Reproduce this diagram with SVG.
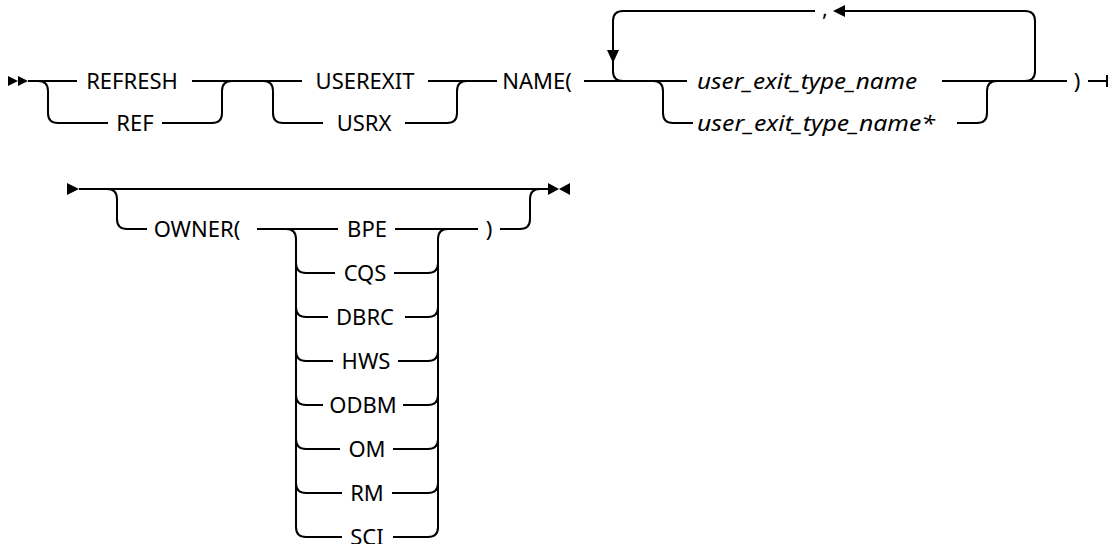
<svg xmlns="http://www.w3.org/2000/svg" width="1109" height="544" viewBox="0 0 1109 544">
<style>
.ln{fill:none;stroke:#000;stroke-width:2}
.ah{fill:#000;stroke:none}
text{font-family:"Noto Sans","Liberation Sans",sans-serif;font-size:22px;fill:#000}
.it{font-style:italic}
.c{text-anchor:middle}
</style>
<rect width="1109" height="544" fill="#fff"/>
<g id="connectors">
<path class="ln" d="M28 81H77M192 81H302M428 81H497M584 81H687M942 81H1067M1088 81H1107M1107 75V87"/>
<path class="ln" d="M38 81Q48 81 48 91V113Q48 123 58 123H108M162 123H212Q222 123 222 113V91Q222 81 232 81"/>
<path class="ln" d="M263 81Q273 81 273 91V113Q273 123 283 123H323M405 123H447Q457 123 457 113V91Q457 81 467 81"/>
<path class="ln" d="M1025 81Q1035 81 1035 71V21Q1035 11 1025 11H845M815 11H623Q613 11 613 21V71Q613 81 623 81"/>
<path class="ln" d="M653 81Q663 81 663 91V113Q663 123 673 123H693M957 123H977Q987 123 987 113V91Q987 81 997 81"/>
<path class="ln" d="M79 189H548"/>
<path class="ln" d="M107 189Q117 189 117 199V219Q117 229 127 229H147M257 229H338M395 229H478M500 229H520Q530 229 530 219V199Q530 189 540 189"/>
<path class="ln" d="M286 229Q296 229 296 239V527M438 527V239Q438 229 448 229"/>
<path class="ln" d="M296 263Q296 273 306 273H335M394 273H428Q438 273 438 263"/>
<path class="ln" d="M296 307Q296 317 306 317H328M405 317H428Q438 317 438 307"/>
<path class="ln" d="M296 351Q296 361 306 361H333M398 361H428Q438 361 438 351"/>
<path class="ln" d="M296 395Q296 405 306 405H323M403 405H428Q438 405 438 395"/>
<path class="ln" d="M296 439Q296 449 306 449H340M393 449H428Q438 449 438 439"/>
<path class="ln" d="M296 483Q296 493 306 493H342M392 493H428Q438 493 438 483"/>
<path class="ln" d="M296 527Q296 537 306 537H342M393 537H428Q438 537 438 527"/>
<polygon class="ah" points="8,76 18,81 8,86"/>
<polygon class="ah" points="18,76 28,81 18,86"/>
<polygon class="ah" points="833,11 845,5 845,17"/>
<polygon class="ah" points="613,63 607,50 619,50"/>
<polygon class="ah" points="67,183 79,189 67,195"/>
<polygon class="ah" points="548,183 559,189 548,195"/>
<polygon class="ah" points="570,183 559,189 570,195"/>
</g>
<g id="n-refresh"><text class="c" x="132" y="89">REFRESH</text></g>
<g id="n-ref"><text class="c" x="135" y="131">REF</text></g>
<g id="n-userexit"><text class="c" x="365" y="89">USEREXIT</text></g>
<g id="n-usrx"><text class="c" x="364" y="131">USRX</text></g>
<g id="n-name"><text class="c" x="537" y="89">NAME(</text></g>
<g id="n-comma"><text class="c" x="825" y="16">,</text></g>
<g id="n-uetn"><text class="it" x="697" y="89" textLength="220" lengthAdjust="spacingAndGlyphs">user_exit_type_name</text></g>
<g id="n-uetn-star"><text class="it" x="697" y="131" textLength="238" lengthAdjust="spacingAndGlyphs">user_exit_type_name*</text></g>
<g id="n-close1"><text class="c" x="1077" y="89">)</text></g>
<g id="n-owner"><text class="c" x="197" y="237">OWNER(</text></g>
<g id="n-close2"><text class="c" x="489" y="237">)</text></g>
<g id="n-bpe"><text class="c" x="367" y="237">BPE</text></g>
<g id="n-cqs"><text class="c" x="365" y="281">CQS</text></g>
<g id="n-dbrc"><text class="c" x="365" y="325">DBRC</text></g>
<g id="n-hws"><text class="c" x="366" y="369">HWS</text></g>
<g id="n-odbm"><text class="c" x="363" y="413">ODBM</text></g>
<g id="n-om"><text class="c" x="367" y="457">OM</text></g>
<g id="n-rm"><text class="c" x="367" y="501">RM</text></g>
<g id="n-sci"><text class="c" x="367" y="545">SCI</text></g>
</svg>
